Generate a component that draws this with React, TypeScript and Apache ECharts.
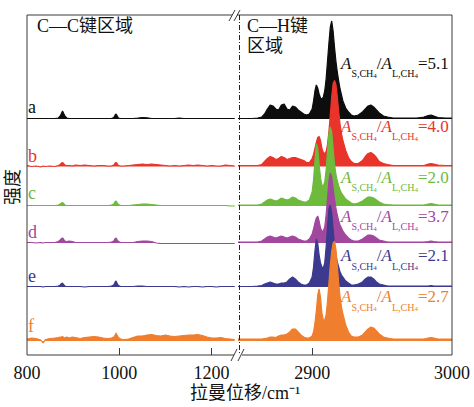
import React, { useEffect, useRef } from "react";
import * as echarts from "echarts";

const SERIF = "Liberation Serif, Noto Sans CJK SC, serif";

// sample names, CH4 area ratios, vertical offsets of each spectrum (intensity units)
const SAMPLE_NAMES = ["a", "b", "c", "d", "e", "f"];
const RATIO_VALUES = ["5.1", "4.0", "2.0", "3.7", "2.1", "2.7"];
const BASELINE_OFFSETS = [236, 188.5, 149, 112, 68, 14];
const SERIES_COLORS = ["#0d0d0d", "#e8342a", "#6dba3c", "#a2479e", "#3b3a8e", "#ef7e2e"];

// C—C region wavenumbers (cm-1)
const X_CC = [800, 810, 820, 830, 835, 840, 850, 860, 868, 872, 875, 877, 879, 882, 886, 892, 898, 905, 915, 925, 935, 945, 955, 965, 975, 983, 988, 991, 993, 995, 998, 1003, 1010, 1020, 1030, 1040, 1050, 1060, 1070, 1080, 1090, 1100, 1110, 1120, 1130, 1140, 1150, 1160, 1170, 1180, 1190, 1200, 1210, 1220, 1230, 1240, 1250];

const CC_A = [0.5, 0.5, 0.5, 0.5, 0.5, 0.5, 0.5, 0.5, 1, 3, 6, 8, 6, 3, 1, 0.5, 0.5, 0.5, 0.5, 0.5, 0.5, 0.5, 0.5, 0.5, 0.5, 0.5, 1.5, 4, 5, 3.5, 1, 0.5, 0.5, 0.5, 0.5, 0.8, 1.5, 1.2, 0.5, 0.5, 0.5, 0.5, 0.5, 0.5, 0.8, 0.5, 0.5, 0.5, 0.5, 0.5, 0.5, 0.5, 0.5, 0.5, 0.5, 0.5, 0.5];
const CC_B = [1, 0, 0.5, -0.5, 0.5, 0, 0.5, 0, 1, 2, 3.5, 4, 3, 1.5, 1, 1, 0.5, 1.5, 1, 1.5, 1, 0.5, 1, 1, 0.5, 0.5, 1.5, 3.5, 4, 3, 1, 0.5, 0.5, 1, 1.5, 2, 2.5, 2, 2.5, 2, 1.5, 1, 0.5, 1, 0.5, 1, 1.5, 1, 1.5, 1, 0.5, 1, 0.5, 0.5, 1.5, 1, 0.5];
const CC_C = [0.5, 0.5, 0.5, 0.5, 0.5, 0.5, 0.5, 0.5, 1, 2, 3, 3.5, 2.5, 1, 0.5, 0.5, 0.5, 0.5, 0.5, 0.5, 0.5, 0.5, 0.5, 0.5, 0.5, 1, 2, 4.5, 5, 3.5, 1.5, 0.5, 0.5, 0.5, 1, 1.5, 2, 2, 1.5, 1, 0.5, 0.5, 0.5, 0.5, 0.5, 0.5, 0.5, 0.5, 0.5, 0.5, 0.5, 0.5, 0.5, 0.5, 0.5, 0, 0];
const CC_D = [0.5, 0.5, 0, 0.5, 0, 0.5, 0.5, 0.5, 1.5, 3, 4.5, 5, 4, 2, 1.5, 2, 1.5, 0.5, 0.5, 0.5, 0.5, 0.5, 0.5, 0.5, 0.5, 1, 2, 4.5, 5, 3.5, 1.5, 0.5, 0.5, 0.5, 0.5, 1.5, 2, 2, 1.5, 0, -0.5, -0.5, -0.5, -0.5, -0.5, -0.5, -0.5, -0.5, -0.5, -0.5, -0.5, -0.5, -0.5, -0.5, -0.5, -0.5, -0.5];
const CC_E = [0.5, 0.5, 0.5, 0.5, 0, 0.5, 0.5, 0.5, 1, 2, 3.5, 4, 2.5, 1, 0.5, 0.5, 0.5, 0.5, 0.5, 0, 0.5, 0.5, 0.5, 0.5, 0.5, 1, 2, 5, 6, 4, 1.5, 0.5, 0.5, 0.5, 0.5, 1, 1, 0.5, 0.5, 0.5, 0.5, 0.5, 0.5, 0.5, 0, 0.5, 0, 0.5, 0.5, 0, 0.5, 0.5, 0, 0.5, 0.5, 0.5, 0.5];
const CC_F = [2, 3, 2.5, 1, -2, 1.5, 2.5, 3, 3.5, 4, 4, 4.5, 3.5, 3, 4, 3, 4, 3.5, 2.5, 3.5, 4, 4.5, 4, 3, 2.5, 3, 4, 6, 8, 6, 3.5, 2, 1.5, 2, 3.5, 5, 5, 6, 6.5, 5.5, 5, 6, 5, 4.5, 5, 5.5, 6, 6, 6.5, 5.5, 4, 3, 3, 3.5, 2.5, 2, 1.5];

// C—H region wavenumbers (cm-1)
const X_CH = [2847, 2852, 2857, 2861, 2864, 2866, 2868, 2870, 2872, 2874, 2876, 2878, 2880, 2882, 2884, 2886, 2888, 2890, 2892, 2894, 2896, 2898, 2900, 2901, 2902, 2903, 2904, 2905, 2906, 2907, 2908, 2909, 2910, 2911, 2912, 2913, 2914, 2915, 2916, 2917, 2918, 2919, 2920, 2921, 2922, 2924, 2926, 2928, 2930, 2933, 2936, 2938, 2940, 2942, 2944, 2946, 2948, 2951, 2954, 2958, 2962, 2966, 2970, 2975, 2980, 2983, 2985, 2987, 2990, 2995, 3000];

const CH_A = [0.5, 0.5, 0.5, 1, 2, 5, 10, 14, 13, 10, 9, 14, 15, 10, 9, 13, 12, 9, 7, 5, 4, 5, 10, 18, 28, 34, 31, 25, 21, 20, 22, 28, 40, 58, 76, 92, 98, 88, 72, 58, 47, 38, 30, 24, 18, 11, 7, 4, 3, 4, 7, 10, 13, 14, 12, 9, 6, 3, 2, 1, 1, 1, 1, 1, 2, 3.5, 4, 3, 1.5, 1, 1];
const CH_B = [1, 1, 1, 1, 2, 5, 8, 10, 9, 7, 8, 10, 9, 7, 8, 9, 9, 8, 7, 6, 4, 4, 8, 12, 18, 24, 29, 30, 26, 18, 14, 13, 15, 22, 35, 52, 70, 83, 86, 82, 70, 55, 42, 33, 26, 16, 9, 5, 3, 3, 6, 10, 13, 14, 12, 9, 5, 3, 2, 1, 1, 1, 1, 1, 1, 2.5, 3, 2.5, 1.5, 1, 1];
const CH_C = [1, 1, 1, 1, 2, 4, 6, 7, 6, 5, 6, 8, 7, 6, 7, 9, 8, 6, 5, 4, 4, 6, 14, 26, 45, 62, 58, 42, 28, 21, 20, 24, 36, 55, 72, 79, 74, 58, 42, 32, 25, 20, 16, 13, 11, 7, 5, 3, 2, 3, 5, 7, 9, 9, 8, 6, 4, 2, 1.5, 1, 1, 1, 1, 1, 1, 2, 2.5, 2, 1, 1, 1];
const CH_D = [1, 1, 1, 1, 2, 4, 6, 7, 6, 5, 6, 7, 6, 5, 6, 7, 6, 4, 3, 2, 2, 4, 9, 14, 20, 25, 27, 22, 15, 12, 12, 16, 28, 45, 62, 70, 66, 55, 44, 35, 28, 22, 18, 15, 12, 8, 5, 3, 2, 2, 4, 6, 8, 8, 7, 5, 3, 2, 1, 1, 1, 1, 1, 1, 1, 1.5, 2, 1.5, 1, 1, 1];
const CH_E = [0.5, 0.5, 0.5, 1, 1.5, 3, 4, 5, 4, 3, 3, 4, 4, 5, 8, 10, 8, 5, 3, 2, 2, 4, 10, 20, 36, 48, 44, 32, 24, 20, 19, 24, 40, 60, 78, 82, 74, 58, 42, 32, 25, 20, 15, 12, 10, 6, 4, 2, 2, 3, 5, 8, 10, 10, 8, 5, 3, 2, 1, 1, 1, 1, 1, 1, 1, 1, 1.5, 1, 1, 1, 1];
const CH_F = [2, 2, 2, 2, 2, 2.5, 3, 4, 4, 3.5, 5, 6, 6, 7, 9, 12, 12, 9, 6, 4, 3, 3, 5, 9, 18, 30, 46, 52, 44, 28, 21, 21, 26, 40, 58, 76, 90, 98, 100, 92, 76, 58, 44, 34, 27, 16, 9, 5, 4, 4, 6, 9, 12, 14, 13, 10, 7, 4, 3, 2, 2, 2, 2, 2, 2, 3, 3.5, 3, 2, 2, 2];

const CC_DATA = [CC_A, CC_B, CC_C, CC_D, CC_E, CC_F];
const CH_DATA = [CH_A, CH_B, CH_C, CH_D, CH_E, CH_F];

// axis ticks / labels
const CC_TICKS = [1000, 1200];
const CC_LABELS = [800, 1000, 1200];
const CH_TICKS = [2900];
const CH_LABELS = [2900, 3000];

// layout (pixels)
const TOP = 15;
const BOTTOM = 355;
const LEFT = 27;
const RIGHT = 452;
const SPLIT = 239.5;
const LETTER_Y = [107, 156, 193, 232, 276, 326];
const RATIO_TOP = [55, 118, 169, 208, 247, 288];

export default function App() {
  const ref = useRef<HTMLDivElement>(null);
  useEffect(() => {
    document.body.style.margin = "0";
    const chart = echarts.init(ref.current as HTMLDivElement, null, { renderer: "svg" });
    const series: any[] = [];
    for (let i = 0; i < 6; i++) {
      const color = SERIES_COLORS[i];
      const off = BASELINE_OFFSETS[i];
      const common = {
        type: "line",
        symbol: "none",
        showSymbol: false,
        silent: true,
        z: 2 + i,
        lineStyle: { color, width: 1.2 },
        areaStyle: { color, opacity: 1, origin: off },
      };
      series.push({
        ...common,
        xAxisIndex: 0,
        yAxisIndex: 0,
        data: X_CC.map((x, j) => [x, off + CC_DATA[i][j]]),
      });
      series.push({
        ...common,
        xAxisIndex: 1,
        yAxisIndex: 1,
        data: X_CH.map((x, j) => [x, off + CH_DATA[i][j]]),
      });
    }

    const frameStroke = { stroke: "#3a3a3a", lineWidth: 1 };
    const line = (x1: number, y1: number, x2: number, y2: number, style: any = frameStroke) => ({
      type: "line",
      silent: true,
      z: 100,
      shape: { x1, y1, x2, y2 },
      style,
    });

    const txt = (x: number, y: number, text: string, fill = "#111", extra: any = {}) => ({
      type: "text",
      silent: true,
      z: 100,
      style: { x, y, text, fontSize: 18, fontFamily: SERIF, fill, align: "left", verticalAlign: "middle", ...extra },
    });

    const elements: any[] = [
      line(LEFT, TOP, LEFT, BOTTOM),
      line(RIGHT, TOP, RIGHT, BOTTOM),
      line(LEFT, TOP, 232, TOP),
      line(237, TOP, RIGHT, TOP),
      line(LEFT, BOTTOM, 234, BOTTOM),
      line(242, BOTTOM, RIGHT, BOTTOM),
      // break marks
      line(229, 21, 235, 10),
      line(234, 21, 240, 10),
      line(231, 361, 237, 349),
      line(238, 361, 244, 349),
      // dash-dot separator
      line(SPLIT, TOP, SPLIT, BOTTOM, { stroke: "#222", lineWidth: 1, lineDash: [5, 2, 1, 2] }),
      txt(37, 26, "C—C键区域"),
      txt(247, 26, "C—H键"),
      txt(247, 46, "区域"),
      txt(190, 393, "拉曼位移/cm⁻¹"),
      {
        type: "text", silent: true, z: 100, x: 13, y: 187, rotation: Math.PI / 2,
        style: { x: 0, y: 0, text: "强度", fontSize: 18, fontFamily: SERIF, fill: "#111", align: "center", verticalAlign: "middle" },
      },
    ];

    for (let i = 0; i < 6; i++) {
      const color = SERIES_COLORS[i];
      elements.push(txt(28, LETTER_Y[i], SAMPLE_NAMES[i], color));
      elements.push({
        type: "text", silent: true, z: 100,
        style: {
          x: 341,
          y: RATIO_TOP[i],
          text: `{i|A}{s|S,CH}{t|4}{n|/}{i|A}{s|L,CH}{t|4}{n|=${RATIO_VALUES[i]}}`,
          fill: color,
          align: "left",
          verticalAlign: "top",
          rich: {
            i: { fill: color, fontFamily: SERIF, fontStyle: "italic", fontSize: 17, lineHeight: 20, verticalAlign: "top" },
            n: { fill: color, fontFamily: SERIF, fontSize: 17, lineHeight: 20, verticalAlign: "top" },
            s: { fill: color, fontFamily: SERIF, fontSize: 10, lineHeight: 11, padding: [14, 0, 0, 0], verticalAlign: "top" },
            t: { fill: color, fontFamily: SERIF, fontSize: 7, lineHeight: 8, padding: [18, 0, 0, 0], verticalAlign: "top" },
          },
        },
      });
    }

    const axisLabel = (vals: number[]) => ({
      customValues: vals,
      formatter: (v: number) => String(v),
      fontSize: 18,
      fontFamily: SERIF,
      color: "#111",
      margin: 9,
    });

    chart.setOption({
      animation: false,
      grid: [
        { left: LEFT, top: TOP, width: 210, height: BOTTOM - TOP },
        { left: 238, top: TOP, width: RIGHT - 238, height: BOTTOM - TOP },
      ],
      xAxis: [
        {
          type: "value", gridIndex: 0, min: 800, max: 1255,
          axisLine: { show: false },
          axisTick: { show: true, inside: true, length: 7, customValues: CC_TICKS, lineStyle: { color: "#3a3a3a" } },
          axisLabel: axisLabel(CC_LABELS),
          splitLine: { show: false },
        },
        {
          type: "value", gridIndex: 1, min: 2847, max: 3000,
          axisLine: { show: false },
          axisTick: { show: true, inside: true, length: 7, customValues: CH_TICKS, lineStyle: { color: "#3a3a3a" } },
          axisLabel: axisLabel(CH_LABELS),
          splitLine: { show: false },
        },
      ],
      yAxis: [
        { type: "value", gridIndex: 0, min: 0, max: BOTTOM - TOP, show: false },
        { type: "value", gridIndex: 1, min: 0, max: BOTTOM - TOP, show: false },
      ],
      series,
      graphic: { elements },
    });
    return () => chart.dispose();
  }, []);
  return <div ref={ref} style={{ width: 474, height: 407, position: "absolute", left: 0, top: 0 }} />;
}
